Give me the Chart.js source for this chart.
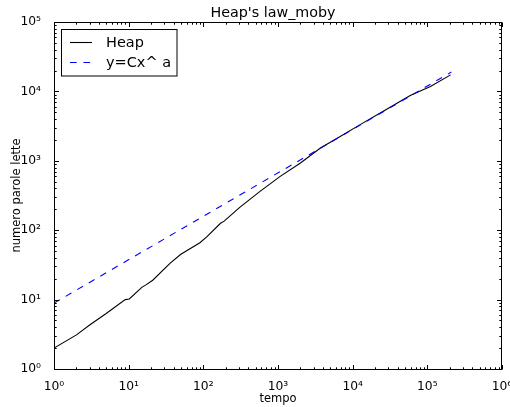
<!DOCTYPE html>
<html>
<head>
<meta charset="utf-8">
<title>Heap's law_moby</title>
<script src="https://cdn.jsdelivr.net/npm/chart.js@4.4.1/dist/chart.umd.min.js"></script>
<style>
  html, body { margin: 0; padding: 0; background: #fff; }
  #wrap { width: 510px; height: 407px; }
</style>
</head>
<body>
<div id="wrap"><canvas id="heapChart" width="510" height="407"></canvas></div>
<script>
// vocabulary growth: distinct words read vs. tokens read
const tempo = [1, 2, 3, 5, 9, 10.2, 15, 17, 21, 36, 50, 90, 111, 170, 190, 310, 580, 1070, 2000, 3700, 6800, 12600, 23400, 59000, 110000, 205000];
const paroleLette = [2, 3.1, 4.3, 6.3, 10, 10.2, 15, 16.3, 19, 33.5, 45, 66, 80, 126, 135, 215, 365, 596, 930, 1530, 2240, 3320, 4900, 8700, 11800, 17300];

// fitted power law, straight on log-log axes
const fitTempo = [1, 210000];
const fitParole = [8.9, 19000];

const xTickValues = [1, 10, 100, 1000, 10000, 100000, 1000000];
const xTickLabels = ["10⁰", "10¹", "10²", "10³", "10⁴", "10⁵", "10⁶"];
const yTickValues = [1, 10, 100, 1000, 10000, 100000];
const yTickLabels = ["10⁰", "10¹", "10²", "10³", "10⁴", "10⁵"];

const FONT = "'DejaVu Sans', 'Bitstream Vera Sans', sans-serif";

function toPoints(xs, ys) {
  return xs.map((x, i) => ({ x: x, y: ys[i] }));
}

function minorValues(decades) {
  const out = [];
  for (let i = 0; i < decades.length - 1; i++) {
    for (let k = 2; k <= 9; k++) out.push(decades[i] * k);
  }
  return out;
}

// frame, inward ticks on all four sides, title and boxed legend
const axesDecor = {
  id: "axesDecor",
  afterDraw(chart) {
    const ctx = chart.ctx;
    const a = chart.chartArea;
    const xs = chart.scales.x;
    const ys = chart.scales.y;
    const L = a.left + 0.5, R = a.right - 0.5, T = a.top + 0.5, B = a.bottom + 0.5;

    ctx.save();
    ctx.strokeStyle = "#000";
    ctx.lineWidth = 1;
    ctx.setLineDash([]);
    ctx.strokeRect(L, T, R - L, B - T);

    ctx.beginPath();
    const tickX = (vals, len) => vals.forEach(v => {
      const px = Math.round(xs.getPixelForValue(v)) + 0.5;
      ctx.moveTo(px, B); ctx.lineTo(px, B - len);
      ctx.moveTo(px, T); ctx.lineTo(px, T + len);
    });
    const tickY = (vals, len) => vals.forEach(v => {
      const py = Math.round(ys.getPixelForValue(v)) + 0.5;
      ctx.moveTo(L, py); ctx.lineTo(L + len, py);
      ctx.moveTo(R, py); ctx.lineTo(R - len, py);
    });
    tickX(xTickValues, 4.5);
    tickX(minorValues(xTickValues), 2.2);
    tickY(yTickValues, 4.5);
    tickY(minorValues(yTickValues), 2.2);
    ctx.stroke();

    // title
    ctx.fillStyle = "#000";
    ctx.font = "14.3px " + FONT;
    ctx.textAlign = "center";
    ctx.textBaseline = "alphabetic";
    ctx.fillText("Heap's law_moby", 273, 17);

    // legend
    ctx.fillStyle = "#fff";
    ctx.fillRect(61.5, 29.5, 115.5, 46.5);
    ctx.strokeStyle = "#000";
    ctx.strokeRect(61.5, 29.5, 115.5, 46.5);
    const rows = [42.5, 62.5];
    const bases = [46.8, 66.8];
    chart.data.datasets.forEach((ds, i) => {
      ctx.beginPath();
      ctx.strokeStyle = ds.borderColor;
      ctx.lineWidth = ds.borderWidth;
      ctx.setLineDash(ds.borderDash || []);
      ctx.moveTo(70, rows[i]);
      ctx.lineTo(92, rows[i]);
      ctx.stroke();
      ctx.setLineDash([]);
      ctx.fillStyle = "#000";
      ctx.font = "14.5px " + FONT;
      ctx.textAlign = "left";
      ctx.fillText(ds.label, 106, bases[i]);
    });
    ctx.restore();
  }
};

new Chart(document.getElementById("heapChart"), {
  type: "line",
  data: {
    datasets: [
      {
        label: "Heap",
        data: toPoints(tempo, paroleLette),
        borderColor: "#000000",
        borderWidth: 1.1,
        pointRadius: 0,
        tension: 0,
        order: 2
      },
      {
        label: "y=Cx^ a",
        data: toPoints(fitTempo, fitParole),
        borderColor: "#0000ff",
        borderWidth: 1.1,
        borderDash: [6.7, 6.7],
        pointRadius: 0,
        tension: 0,
        order: 1
      }
    ]
  },
  options: {
    responsive: false,
    animation: false,
    devicePixelRatio: 1,
    layout: { padding: { top: 22, right: 8, left: 0, bottom: 0 } },
    plugins: {
      legend: { display: false },
      title: { display: false },
      tooltip: { enabled: false }
    },
    scales: {
      x: {
        type: "logarithmic",
        min: 1,
        max: 1000000,
        afterBuildTicks: s => { s.ticks = xTickValues.map(v => ({ value: v })); },
        afterFit: s => { s.height = 38; s.paddingLeft = 0; s.paddingRight = 0; },
        grid: { display: false },
        border: { display: false },
        ticks: {
          autoSkip: false,
          maxRotation: 0,
          padding: 2,
          color: "#000",
          font: { family: FONT, size: 12.3 },
          callback: (v, i) => xTickLabels[i]
        },
        title: {
          display: true,
          text: "tempo",
          color: "#000",
          font: { family: FONT, size: 11.5 },
          padding: { top: 0, bottom: 1 }
        }
      },
      y: {
        type: "logarithmic",
        min: 1,
        max: 100000,
        afterBuildTicks: s => { s.ticks = yTickValues.map(v => ({ value: v })); },
        afterFit: s => { s.width = 54; s.paddingTop = 0; s.paddingBottom = 0; },
        grid: { display: false },
        border: { display: false },
        ticks: {
          autoSkip: false,
          padding: 5,
          color: "#000",
          font: { family: FONT, size: 12.3 },
          callback: (v, i) => yTickLabels[i]
        },
        title: {
          display: true,
          text: "numero parole lette",
          color: "#000",
          font: { family: FONT, size: 11.5 },
          padding: { top: 10, bottom: 0 }
        }
      }
    }
  },
  plugins: [axesDecor]
});
</script>
</body>
</html>
